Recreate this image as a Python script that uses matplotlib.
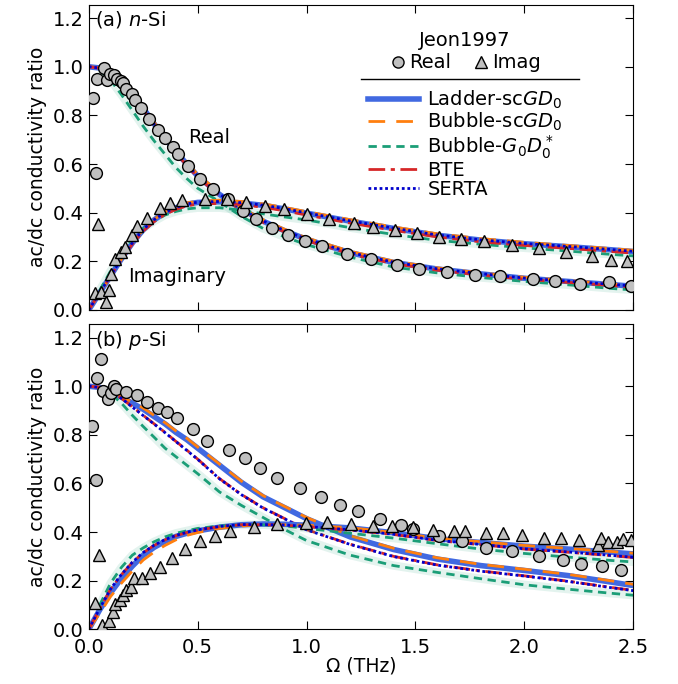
import numpy as np
import matplotlib
matplotlib.use("Agg")
import matplotlib.pyplot as plt
from matplotlib.lines import Line2D

# Frequency grid (THz) for the model curves
W = [0, .05, .1, .15, .2, .25, .3, .35, .4, .45, .5, .6, .7, .8, .9, 1.0,
     1.2, 1.4, 1.6, 1.8, 2.0, 2.2, 2.4, 2.5]

# ---- (a) n-Si model curves ----
n_ladder_re = [1.0, .995, .975, .94, .89, .83, .765, .705, .65, .60, .55, .475, .415, .365, .325,
               .29, .235, .195, .168, .148, .13, .117, .104, .097]
n_ladder_im = [0, .07, .14, .21, .275, .33, .37, .40, .42, .435, .442, .445, .44, .43, .415,
               .398, .365, .335, .307, .287, .272, .26, .247, .24]
n_bubsc_re = [1.0, .996, .978, .945, .895, .836, .772, .712, .657, .606, .557, .482, .421, .371, .331,
              .296, .241, .2, .173, .152, .134, .121, .107, .1]
n_bubsc_im = [0, .068, .138, .208, .273, .33, .372, .403, .424, .44, .447, .451, .446, .436, .421,
              .404, .371, .341, .313, .293, .278, .265, .252, .245]
n_bub0_re = [1.0, .985, .945, .885, .82, .755, .695, .64, .585, .54, .50, .445, .385, .335, .30,
             .268, .217, .176, .152, .133, .117, .103, .088, .082]
n_bub0_im = [0, .08, .16, .23, .29, .335, .365, .39, .405, .415, .42, .42, .41, .395, .382,
             .37, .338, .31, .286, .27, .255, .242, .228, .222]
n_bte_re = [1.0, .994, .972, .936, .885, .824, .759, .699, .644, .594, .545, .47, .41, .36, .32,
            .285, .23, .19, .163, .143, .126, .113, .1, .093]
n_bte_im = [0, .07, .139, .207, .27, .324, .363, .393, .413, .428, .435, .438, .433, .422, .407,
            .39, .357, .327, .3, .28, .265, .253, .24, .233]
n_serta_re = [1.0, .995, .975, .94, .89, .83, .765, .705, .65, .60, .55, .476, .416, .366, .326,
              .291, .236, .196, .169, .149, .131, .118, .105, .098]
n_serta_im = [0, .071, .141, .211, .276, .331, .371, .401, .421, .436, .443, .446, .441, .431, .416,
              .399, .366, .336, .308, .288, .273, .261, .248, .241]

# ---- (b) p-Si model curves ----
p_ladder_re = [1.0, .995, .98, .955, .93, .905, .875, .845, .81, .78, .745, .675, .605, .545, .50,
               .455, .38, .328, .289, .262, .242, .221, .194, .18]
p_ladder_im = [0, .08, .15, .21, .26, .305, .337, .362, .382, .395, .405, .42, .43, .433, .432,
               .428, .417, .397, .373, .357, .342, .33, .317, .31]
p_bubsc_re = [1.0, .996, .982, .958, .934, .91, .88, .85, .816, .786, .75, .68, .61, .55, .505,
              .46, .385, .333, .294, .267, .247, .226, .199, .185]
p_bubsc_im = [0, .065, .135, .19, .24, .285, .318, .345, .368, .386, .398, .415, .425, .43, .43,
              .428, .418, .398, .375, .36, .345, .333, .32, .313]
p_bub0_re = [1.0, .99, .97, .93, .88, .834, .79, .745, .71, .675, .64, .565, .51, .46, .41,
             .365, .305, .262, .234, .208, .183, .165, .148, .14]
p_bub0_im = [0, .10, .19, .255, .305, .335, .36, .38, .395, .405, .415, .425, .43, .43, .425,
             .415, .395, .375, .352, .33, .312, .297, .283, .277]
p_bte_re = [1.0, .995, .975, .95, .915, .88, .845, .81, .773, .737, .70, .62, .555, .50, .455,
            .41, .35, .30, .265, .24, .22, .198, .172, .16]
p_bte_im = [0, .085, .165, .225, .275, .315, .345, .368, .385, .398, .408, .422, .43, .43, .428,
            .422, .408, .39, .365, .348, .33, .317, .303, .295]
p_serta_re = [1.0, .995, .975, .95, .914, .879, .844, .809, .772, .736, .699, .619, .554, .499, .454,
              .409, .349, .299, .264, .239, .219, .197, .171, .159]
p_serta_im = [0, .086, .166, .226, .276, .316, .346, .369, .386, .399, .409, .423, .431, .431, .429,
              .423, .409, .391, .366, .349, .331, .318, .304, .296]

# ---- Jeon1997 experimental points ----
n_exp_re_x = [.017, .031, .038, .070, .084, .097, .115, .13, .146, .158, .173, .20, .214, .24, .277,
              .316, .35, .385, .411, .456, .512, .571, .638, .708, .768, .842, .914, .992, 1.072,
              1.187, 1.294, 1.414, 1.518, 1.644, 1.774, 1.889, 2.039, 2.139, 2.256, 2.387, 2.489]
n_exp_re_y = [.872, .565, .949, .995, .944, .969, .965, .951, .942, .933, .91, .886, .862, .83, .784,
              .741, .709, .67, .64, .592, .54, .499, .455, .407, .372, .337, .308, .283, .263,
              .231, .208, .186, .17, .156, .145, .138, .126, .117, .106, .114, .098]
n_exp_im_x = [.028, .043, .058, .081, .092, .104, .119, .15, .165, .196, .223, .265, .326, .372, .426,
              .533, .636, .721, .809, .895, 1.003, 1.104, 1.217, 1.307, 1.406, 1.509, 1.608, 1.71,
              1.815, 1.945, 2.065, 2.192, 2.31, 2.399, 2.471]
n_exp_im_y = [.070, .352, .073, .032, .083, .147, .209, .236, .258, .307, .343, .377, .421, .439, .453,
              .456, .456, .442, .426, .413, .395, .374, .358, .341, .330, .318, .300, .293,
              .283, .268, .256, .238, .221, .207, .200]

p_exp_re_x = [.015, .031, .038, .058, .066, .086, .10, .115, .127, .173, .219, .265, .318, .357, .403,
              .48, .544, .643, .717, .785, .865, .972, 1.066, 1.152, 1.234, 1.339, 1.434, 1.487,
              1.607, 1.714, 1.824, 1.945, 2.065, 2.177, 2.26, 2.357, 2.442]
p_exp_re_y = [.835, .613, 1.034, 1.112, .981, .949, .972, 1.0, .99, .977, .963, .935, .911, .892, .871,
              .822, .775, .737, .705, .665, .621, .582, .546, .513, .486, .455, .427, .414,
              .384, .364, .336, .322, .302, .287, .267, .259, .243]
p_exp_im_x = [.03, .045, .06, .092, .11, .122, .144, .157, .173, .192, .208, .246, .28, .328, .38,
              .441, .512, .579, .648, .759, .865, .995, 1.095, 1.202, 1.307, 1.394, 1.487, 1.581,
              1.675, 1.728, 1.824, 1.9, 1.989, 2.09, 2.166, 2.25, 2.34, 2.35, 2.383, 2.425,
              2.451, 2.488]
p_exp_im_y = [.108, .304, .016, .036, .07, .102, .122, .143, .16, .175, .209, .209, .232, .258, .295,
              .329, .362, .383, .403, .419, .434, .438, .44, .432, .425, .425, .419, .409,
              .406, .406, .396, .396, .389, .374, .374, .367, .346, .377, .361, .359,
              .371, .366]

C_LADDER = "#4169e1"
C_BUBSC = "#ff7f0e"
C_BUB0 = "#1b9e77"
C_BTE = "#d62728"
C_SERTA = "#0000cc"

DASH_BSC = (6, 4)
DASH_B0 = (3, 2)
DASH_BTE = (6, 2, 1.5, 2)
DASH_SRT = (1, 1)

plt.rcParams["font.family"] = "DejaVu Sans"
plt.rcParams["font.size"] = 14
plt.rcParams["mathtext.fontset"] = "dejavusans"

fig = plt.figure(figsize=(6.78, 6.84), dpi=100)
ax1 = fig.add_axes([0.131, 0.547, 0.803, 0.446])
ax2 = fig.add_axes([0.131, 0.080, 0.803, 0.446])


def draw_panel(ax, curves, exp, label):
    for key in ["re", "im"]:
        lad, bsc, b0, bte, srt = curves[key]
        ax.plot(W[1:], b0[1:], color=C_BUB0, lw=6, alpha=0.12, solid_capstyle="butt")
        ax.plot(W, lad, color=C_LADDER, lw=4, solid_capstyle="butt")
        ax.plot(W, bsc, color=C_BUBSC, lw=2, dashes=DASH_BSC)
        ax.plot(W[1:], b0[1:], color=C_BUB0, lw=2, dashes=DASH_B0)
        ax.plot(W, bte, color=C_BTE, lw=2, dashes=DASH_BTE)
        ax.plot(W, srt, color=C_SERTA, lw=2, dashes=DASH_SRT)
    rx, ry, ix, iy = exp
    ax.plot(rx, ry, "o", ms=8.5, mfc="#c0c0c0", mec="k", mew=1, ls="none", zorder=5)
    ax.plot(ix, iy, "^", ms=9, mfc="#c0c0c0", mec="k", mew=1, ls="none", zorder=5)
    ax.set_xlim(0, 2.5)
    ax.set_ylim(0, 1.255)
    ax.set_xticks([0, 0.5, 1.0, 1.5, 2.0, 2.5])
    ax.set_yticks([0, 0.2, 0.4, 0.6, 0.8, 1.0, 1.2])
    ax.tick_params(direction="in", top=True, right=True, length=6, labelsize=14)
    ax.tick_params(axis="x", pad=6)
    ax.set_ylabel("ac/dc conductivity ratio", fontsize=13.5)
    ax.text(0.012, 0.985, label, transform=ax.transAxes, ha="left", va="top", fontsize=14)


draw_panel(ax1,
           {"re": [n_ladder_re, n_bubsc_re, n_bub0_re, n_bte_re, n_serta_re],
            "im": [n_ladder_im, n_bubsc_im, n_bub0_im, n_bte_im, n_serta_im]},
           [n_exp_re_x, n_exp_re_y, n_exp_im_x, n_exp_im_y], r"(a) $n$-Si")
draw_panel(ax2,
           {"re": [p_ladder_re, p_bubsc_re, p_bub0_re, p_bte_re, p_serta_re],
            "im": [p_ladder_im, p_bubsc_im, p_bub0_im, p_bte_im, p_serta_im]},
           [p_exp_re_x, p_exp_re_y, p_exp_im_x, p_exp_im_y], r"(b) $p$-Si")

ax1.tick_params(labelbottom=False)
ax2.set_xlabel("Ω (THz)", fontsize=13.5, labelpad=0)

ax1.text(0.182, 0.548, "Real", transform=ax1.transAxes, fontsize=14)
ax1.text(0.072, 0.092, "Imaginary", transform=ax1.transAxes, fontsize=14)

# legends
mk = [Line2D([], [], marker="o", ls="none", ms=8, mfc="#c0c0c0", mec="k"),
      Line2D([], [], marker="^", ls="none", ms=8, mfc="#c0c0c0", mec="k")]
leg1 = ax1.legend(mk, ["Real", "Imag"], ncol=2, title="Jeon1997", frameon=False,
                  loc="upper center", bbox_to_anchor=(0.69, 0.96), fontsize=14,
                  title_fontsize=14, handletextpad=0.1, columnspacing=1.0,
                  handlelength=1.0, borderpad=0.2, labelspacing=0.2)
ln = [Line2D([], [], color=C_LADDER, lw=4),
      Line2D([], [], color=C_BUBSC, lw=2, dashes=DASH_BSC),
      Line2D([], [], color=C_BUB0, lw=2, dashes=DASH_B0),
      Line2D([], [], color=C_BTE, lw=2, dashes=DASH_BTE),
      Line2D([], [], color=C_SERTA, lw=2, dashes=DASH_SRT)]
ax1.legend(ln, [r"Ladder-sc$GD_0$", r"Bubble-sc$GD_0$", r"Bubble-$G_0D_0^*$", "BTE", "SERTA"],
           frameon=False, loc="upper left", bbox_to_anchor=(0.488, 0.77), fontsize=14,
           handlelength=2.6, handletextpad=0.45, labelspacing=0.0, borderpad=0.2)
ax1.add_artist(leg1)
ax1.plot([0.5, 0.9], [0.757, 0.757], transform=ax1.transAxes, color="k", lw=1, clip_on=False)

fig.savefig("out.png", dpi=100)
